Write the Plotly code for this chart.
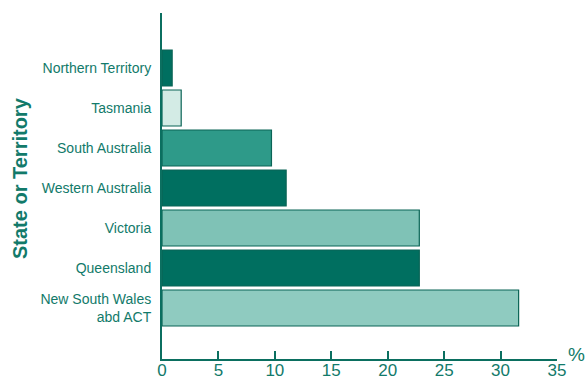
import plotly.graph_objects as go

# Share of population by state or territory (%)
regions = [
    "New South Wales<br>abd ACT",
    "Queensland",
    "Victoria",
    "Western Australia",
    "South Australia",
    "Tasmania",
    "Northern Territory",
]
shares = [31.6, 22.8, 22.8, 11.0, 9.7, 1.7, 0.9]
bar_colors = ["#8fcbc0", "#006f60", "#7fc2b6", "#006f60", "#2e9a89", "#d3ebe5", "#006f60"]
x_ticks = [0, 5, 10, 15, 20, 25, 30, 35]

teal_text = "#127a6a"
axis_col = "#0b6f60"

fig = go.Figure(
    go.Bar(
        y=regions,
        x=shares,
        orientation="h",
        marker=dict(color=bar_colors, line=dict(color="#0a6456", width=1.2)),
        width=0.9,
    )
)

W, H = 588, 383
ml, mr, mt, mb = 162, 31, 13, 24
pw = W - ml - mr
ph = H - mt - mb

fig.update_layout(
    width=W,
    height=H,
    margin=dict(l=ml, r=mr, t=mt, b=mb),
    paper_bgcolor="white",
    plot_bgcolor="white",
    showlegend=False,
    font=dict(family="Liberation Sans, Arial, sans-serif", color=teal_text),
    xaxis=dict(
        range=[0, 35],
        tickvals=x_ticks,
        ticks="inside",
        ticklen=8,
        tickwidth=1.5,
        tickcolor=axis_col,
        showline=True,
        linecolor=axis_col,
        linewidth=2,
        showgrid=False,
        zeroline=False,
        automargin=False,
        ticklabelstandoff=-5,
        tickfont=dict(size=17, color=teal_text),
    ),
    yaxis=dict(
        range=[-1.275, 7.375],
        showline=True,
        linecolor=axis_col,
        linewidth=2,
        showgrid=False,
        zeroline=False,
        automargin=False,
        ticks="",
        ticklabelstandoff=6,
        tickfont=dict(size=14, color=teal_text),
    ),
    annotations=[
        dict(
            text="<b>State or Territory</b>",
            textangle=-90,
            xref="paper",
            yref="paper",
            x=(20 - ml) / pw,
            y=(H - mb - 178) / ph,
            xanchor="center",
            yanchor="middle",
            showarrow=False,
            font=dict(size=20, color=teal_text),
        ),
        dict(
            text="%",
            xref="paper",
            yref="paper",
            x=(576 - ml) / pw,
            y=(H - mb - 354) / ph,
            xanchor="center",
            yanchor="middle",
            showarrow=False,
            font=dict(size=19, color=teal_text),
        ),
    ],
)

fig.write_html("out.html")
